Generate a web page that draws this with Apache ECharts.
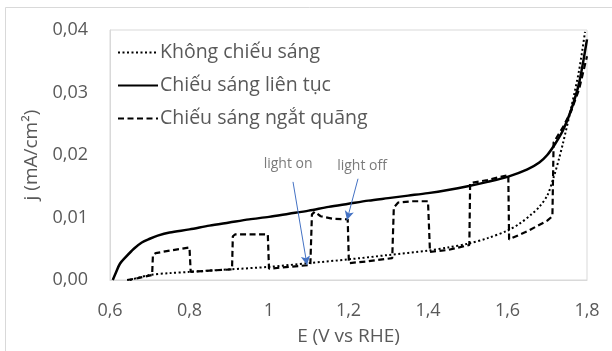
<!DOCTYPE html>
<html>
<head>
<meta charset="utf-8">
<script src="https://cdn.jsdelivr.net/npm/echarts@6/dist/echarts.min.js"></script>
<style>html,body{margin:0;padding:0;background:#fff}#c{width:612px;height:351px}</style>
</head>
<body>
<div id="c"></div>
<script>
// Series names
const seriesNames = ['Không chiếu sáng', 'Chiếu sáng liên tục', 'Chiếu sáng ngắt quãng'];
// Axis ticks
const xTicks = [0.6, 0.8, 1.0, 1.2, 1.4, 1.6, 1.8];
const yTicks = [0, 0.01, 0.02, 0.03, 0.04];

// Dark (no illumination) curve: [E, j]
const darkData = [
  [0.65,0.0000],[0.70,0.0008],[0.75,0.0011],[0.80,0.0013],[0.90,0.0017],[1.00,0.0021],
  [1.10,0.0027],[1.20,0.0033],[1.30,0.0040],[1.40,0.0047],[1.45,0.0052],[1.50,0.0058],
  [1.55,0.0067],[1.60,0.0079],[1.63,0.0090],[1.66,0.0105],[1.68,0.0117],[1.70,0.0135],
  [1.715,0.0162],[1.73,0.0195],[1.74,0.0220],[1.76,0.0275],[1.78,0.0335],[1.795,0.0397]
];
// Continuous illumination curve
const lightData = [
  [0.607,0.0000],[0.615,0.0012],[0.625,0.0026],[0.64,0.0037],[0.66,0.0050],[0.68,0.0060],
  [0.70,0.0066],[0.72,0.0071],[0.75,0.0076],[0.80,0.0081],[0.85,0.0087],[0.90,0.0092],
  [0.95,0.0097],[1.00,0.0101],[1.05,0.0106],[1.10,0.0111],[1.15,0.0117],[1.20,0.0122],
  [1.25,0.0127],[1.30,0.0131],[1.35,0.0135],[1.40,0.0139],[1.45,0.0144],[1.50,0.0150],
  [1.55,0.0157],[1.60,0.0165],[1.65,0.0177],[1.68,0.0188],[1.70,0.0200],[1.72,0.0218],
  [1.74,0.0240],[1.76,0.0272],[1.78,0.0315],[1.80,0.0385]
];
// Chopped illumination curve
const chopData = [
  [0.643,0.0000],[0.67,0.0003],[0.706,0.0008],[0.708,0.0040],[0.715,0.0043],[0.75,0.0047],
  [0.800,0.0052],[0.803,0.0013],[0.85,0.0015],[0.907,0.0017],[0.909,0.0070],[0.915,0.0073],
  [0.95,0.0073],[0.997,0.0073],[1.000,0.0018],[1.05,0.0021],[1.104,0.0024],[1.108,0.0105],
  [1.115,0.0109],[1.13,0.0102],[1.16,0.0098],[1.198,0.0097],[1.201,0.0027],[1.25,0.0030],
  [1.310,0.0035],[1.314,0.0116],[1.325,0.0124],[1.36,0.0126],[1.40,0.0126],[1.405,0.0045],
  [1.45,0.0048],[1.504,0.0056],[1.506,0.0155],[1.55,0.0160],[1.602,0.0168],[1.604,0.0065],
  [1.65,0.0078],[1.70,0.0095],[1.713,0.0102],[1.716,0.0220],[1.74,0.0245],[1.76,0.0270],
  [1.78,0.0305],[1.80,0.0358]
];
// Annotations (data coordinates)
const annoText = ['light on', 'light off'];
const annoLabelPos = [[1.048,0.0186],[1.234,0.0183]];
const annoFrom = [[1.0604,0.0157],[1.2239,0.0162]];
const annoTo = [[1.0956,0.0024],[1.1962,0.0096]];

const fmt = v => String(+v.toFixed(2)).replace('.', ',');
const txt = '#595959';
const font = 'Open Sans';

const chart = echarts.init(document.getElementById('c'), null, {renderer:'canvas'});
chart.setOption({
  animation: false,
  backgroundColor: '#fff',
  graphic: [{type:'rect', shape:{x:5.5,y:7.5,width:700,height:500}, style:{fill:'none',stroke:'#d9d9d9',lineWidth:1}, silent:true}],
  grid: {left:110, right:25, top:30, bottom:71, show:true, borderColor:'#d9d9d9', borderWidth:1},
  legend: {
    orient:'vertical', left:112, top:36, itemWidth:40, itemHeight:14, itemGap:10,
    data: seriesNames,
    itemStyle:{opacity:0},
    textStyle:{color:txt, fontFamily:font, fontSize:19.5, lineHeight:23, padding:[0,0,0,-3]}
  },
  xAxis: {
    type:'value', min:xTicks[0], max:xTicks[xTicks.length-1], interval:0.2,
    name:'E (V vs RHE)', nameLocation:'middle', nameGap:47,
    nameTextStyle:{color:txt, fontFamily:font, fontSize:19},
    axisLine:{show:true, lineStyle:{color:'#d9d9d9'}}, axisTick:{show:false}, splitLine:{show:false},
    axisLabel:{color:txt, fontFamily:font, fontSize:18, margin:22, formatter:fmt}
  },
  yAxis: {
    type:'value', min:yTicks[0], max:yTicks[yTicks.length-1], interval:0.01,
    name:'j (mA/cm²)', nameLocation:'middle', nameGap:58, nameRotate:90,
    nameTextStyle:{color:txt, fontFamily:font, fontSize:19},
    axisLine:{show:true, lineStyle:{color:'#d9d9d9'}}, axisTick:{show:false}, splitLine:{show:false},
    axisLabel:{color:txt, fontFamily:font, fontSize:18, margin:22, formatter: v => v.toFixed(2).replace('.', ',')}
  },
  series: [
    {name:seriesNames[0], type:'line', data:darkData, symbol:'none', smooth:0.3,
     lineStyle:{color:'#000', width:2, type:[2,2.5]}, itemStyle:{color:'#000'}},
    {name:seriesNames[1], type:'line', data:lightData, symbol:'none', smooth:0.3,
     lineStyle:{color:'#000', width:2.5, type:'solid'}, itemStyle:{color:'#000'}},
    {name:seriesNames[2], type:'line', data:chopData, symbol:'none',
     lineStyle:{color:'#000', width:2.2, type:[6,3.5]}, itemStyle:{color:'#000'},
     markLine:{silent:true, symbol:['none','arrow'], symbolSize:[7,9],
       lineStyle:{color:'#4472c4', width:1, type:'solid'}, label:{show:false},
       data: annoFrom.map((f,i)=>[{coord:f},{coord:annoTo[i]}])}},
    {name:'anno', type:'scatter', symbolSize:0, silent:true,
     data: annoLabelPos.map((p,i)=>[p[0],p[1],annoText[i]]),
     label:{show:true, position:'inside', color:txt, fontFamily:font, fontSize:14, formatter:p=>p.data[2]}}
  ]
});
</script>
</body>
</html>
